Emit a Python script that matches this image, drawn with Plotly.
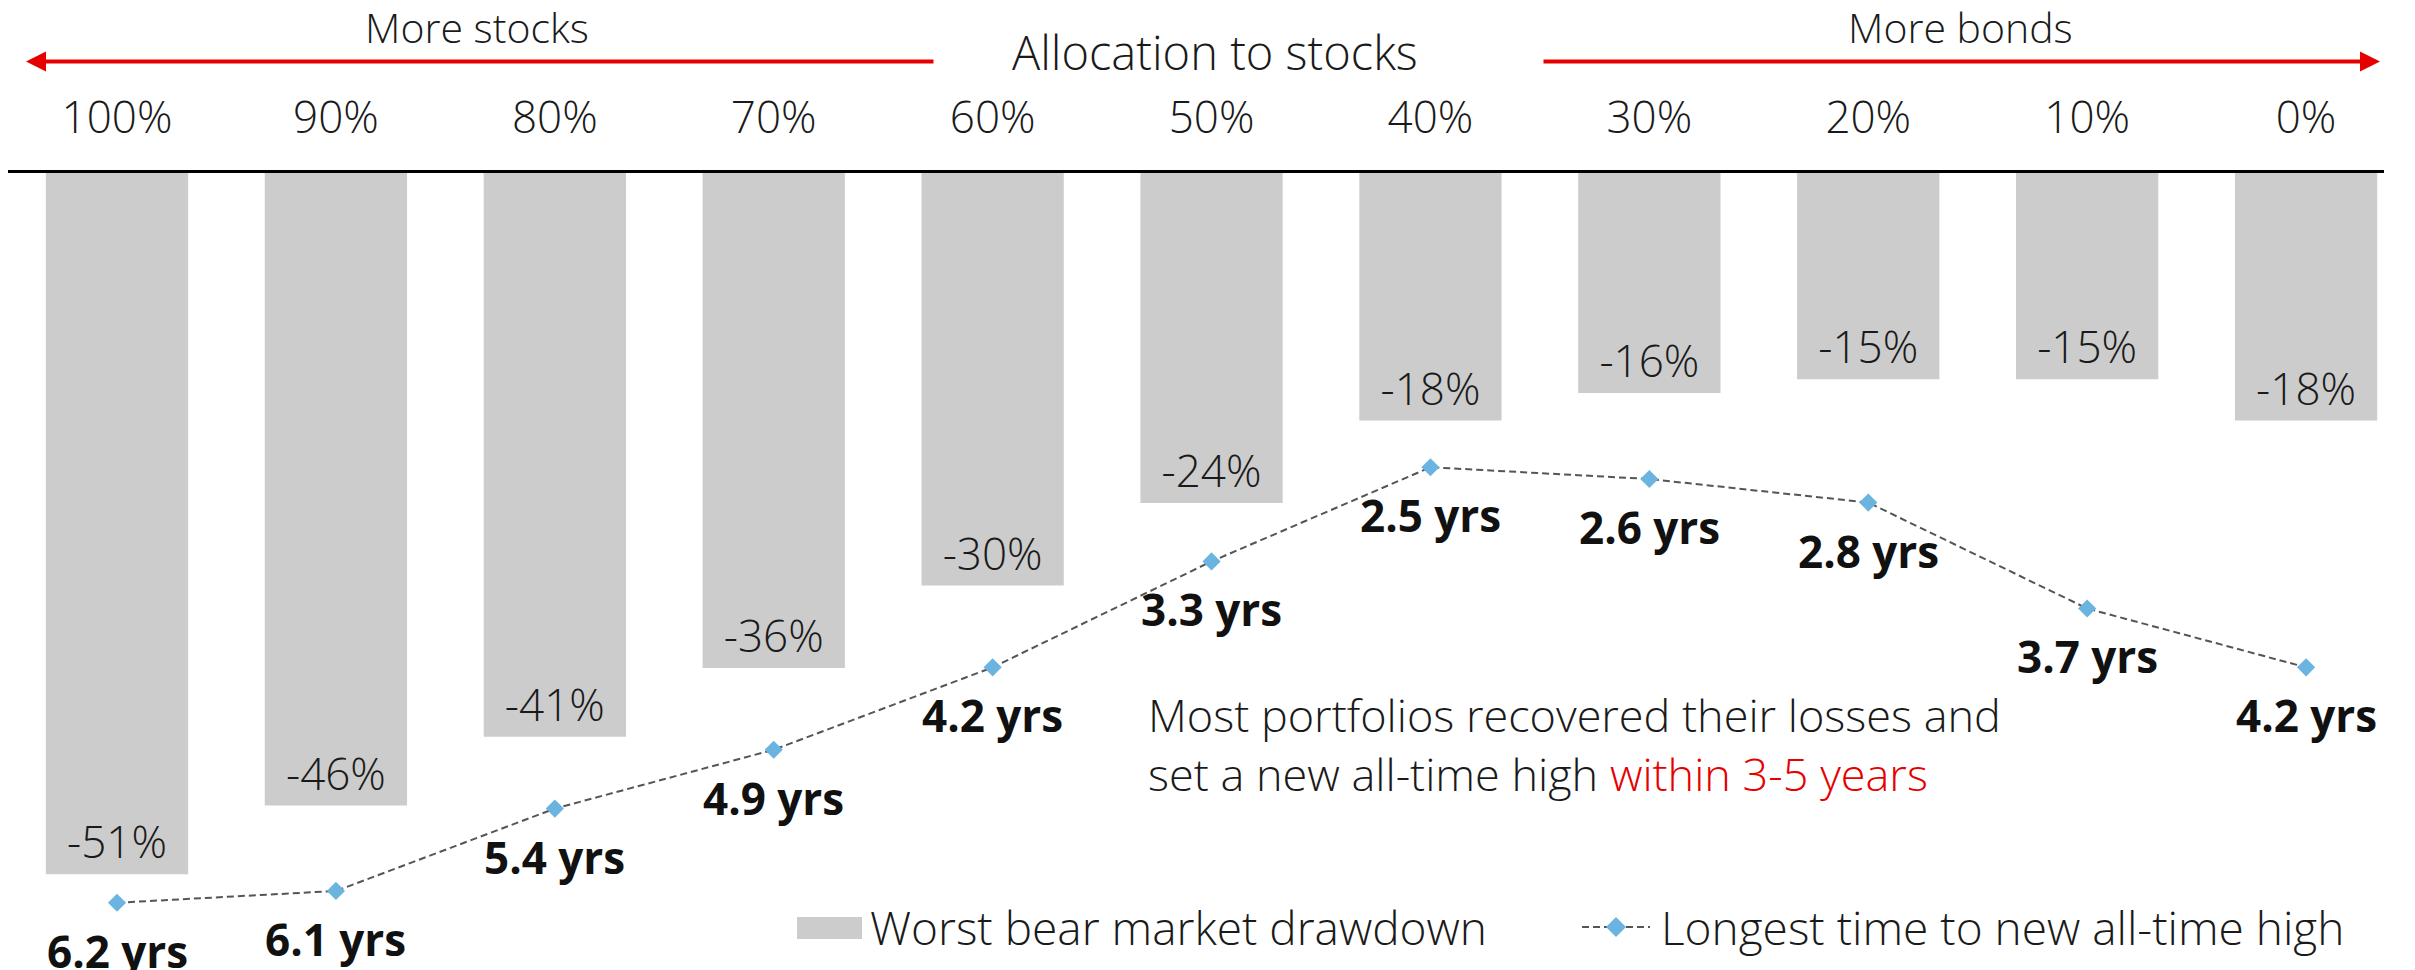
import plotly.graph_objects as go

# data
allocations = ["100%", "90%", "80%", "70%", "60%", "50%", "40%", "30%", "20%", "10%", "0%"]
drawdown = [-51, -46, -41, -36, -30, -24, -18, -16, -15, -15, -18]
recovery_years = [6.2, 6.1, 5.4, 4.9, 4.2, 3.3, 2.5, 2.6, 2.8, 3.7, 4.2]

bar_name = "Worst bear market drawdown"
line_name = "Longest time to new all-time high"

FONT = "Open Sans"
RED = "#E60000"
GREY = "#CCCCCC"
BLUE = "#6CB4E0"
INK = "#1a1a1a"

# the page puts the figure 8px in from the top-left corner of the window
OFF = 8
W, H = 2415 - OFF, 970 - OFF
ML, MR, MT, MB = 0, 31, 165, 10
PW = W - ML - MR
PH = H - MT - MB


# screen pixel -> paper helpers for the decorations
def px(x):
    return (x - OFF - ML) / PW


def py(y):
    return (H - MB - (y - OFF)) / PH


def label(x, y, text, size, anchor="center", weight=300):
    return dict(x=px(x), y=py(y), xref="paper", yref="paper", xanchor=anchor, yanchor="middle",
                align="left", text=text, showarrow=False,
                font=dict(family=FONT, size=size, color=INK, weight=weight))


fig = go.Figure()

fig.add_trace(go.Bar(
    x=allocations, y=drawdown, name=bar_name, marker=dict(color=GREY, line=dict(width=0)),
    text=["{}%".format(v) for v in drawdown], textposition="inside", insidetextanchor="end",
    textangle=0, constraintext="none",
    textfont=dict(family=FONT, size=44, color=INK, weight=300),
    hovertemplate="%{x}: %{y}%<extra></extra>"))

fig.add_trace(go.Scatter(
    x=allocations, y=recovery_years, yaxis="y2", name=line_name, mode="lines+markers",
    line=dict(color="#555555", width=2, dash="7px,4px"),
    marker=dict(symbol="diamond", size=14, color=BLUE),
    cliponaxis=False, hovertemplate="%{x}: %{y} yrs<extra></extra>"))

annotations = []
for a, v in zip(allocations, recovery_years):
    annotations.append(dict(x=a, y=v, xref="x", yref="y2", text="{} yrs".format(v), showarrow=False,
                            yanchor="middle", yshift=-48,
                            font=dict(family=FONT, size=44, color="#111111", weight=700)))

# header texts
annotations.append(label(1215, 52, "Allocation to stocks", 47))
annotations.append(label(477, 27, "More stocks", 41))
annotations.append(label(1960, 27, "More bonds", 41))

# red arrows
annotations.append(dict(x=px(26), y=py(61.6), xref="paper", yref="paper", text="", showarrow=True,
                        ax=909, ay=0, arrowhead=2, arrowsize=1, arrowwidth=4, arrowcolor=RED))
annotations.append(dict(x=px(2380), y=py(61.6), xref="paper", yref="paper", text="", showarrow=True,
                        ax=-838, ay=0, arrowhead=2, arrowsize=1, arrowwidth=4, arrowcolor=RED))

# message
annotations.append(label(1146, 744, "Most portfolios recovered their losses and<br>set a new all-time high "
                                    "<span style='color:" + RED + "'>within 3-5 years</span>", 45, "left"))

# legend (drawn by hand to get the wide swatch)
annotations.append(label(868, 927, bar_name, 46, "left"))
annotations.append(label(1659, 927, line_name, 46, "left"))

shapes = [
    dict(type="rect", xref="paper", yref="paper", x0=px(797), x1=px(862), y0=py(939), y1=py(917),
         fillcolor=GREY, line=dict(width=0)),
    dict(type="line", xref="paper", yref="paper", x0=px(1582), x1=px(1650), y0=py(927), y1=py(927),
         line=dict(color="#555555", width=2, dash="7px,4px")),
    dict(type="path", xref="paper", yref="paper",
         path="M {} {} L {} {} L {} {} L {} {} Z".format(px(1606), py(927), px(1616), py(917),
                                                         px(1626), py(927), px(1616), py(937)),
         fillcolor=BLUE, line=dict(width=0)),
]

fig.update_layout(
    width=W, height=H,
    margin=dict(l=ML, r=MR, t=MT, b=MB, autoexpand=False),
    paper_bgcolor="white", plot_bgcolor="white",
    showlegend=False, bargap=0.35,
    font=dict(family=FONT, color=INK),
    xaxis=dict(type="category", side="top", range=[-0.498, 10.356], showline=True, linecolor="black",
               linewidth=3, ticks="outside", ticklen=19, tickcolor="rgba(0,0,0,0)", showgrid=False,
               zeroline=False, automargin=False, tickfont=dict(family=FONT, size=44, color=INK, weight=300)),
    yaxis=dict(range=[-PH / 13.75, 0], visible=False, showgrid=False, zeroline=False),
    yaxis2=dict(range=[PH / 117.7, 0], overlaying="y", visible=False, showgrid=False, zeroline=False),
    annotations=annotations,
    shapes=shapes,
)

fig.write_html("out.html")
